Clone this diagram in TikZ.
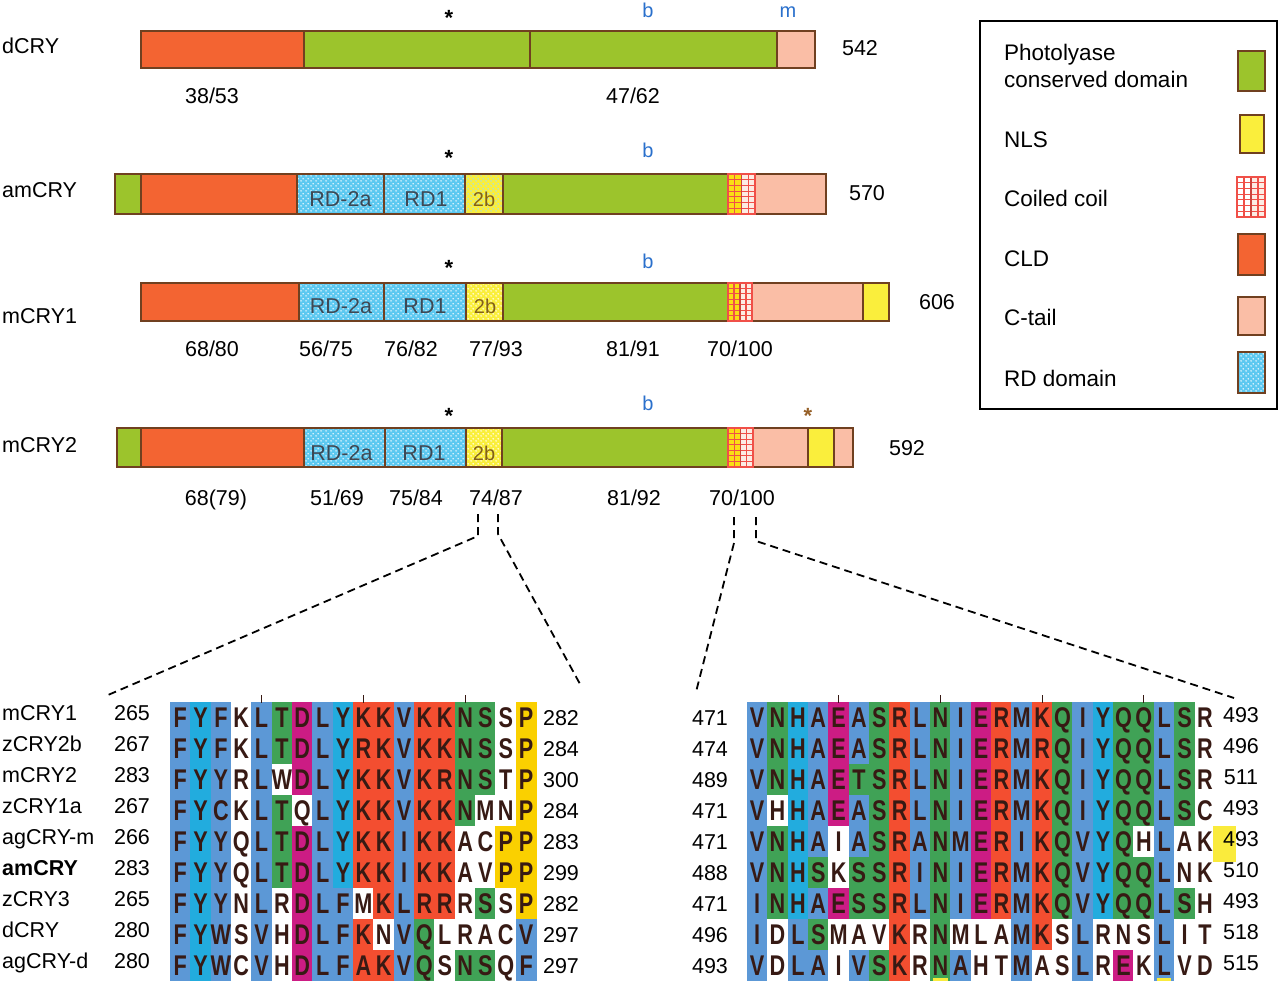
\documentclass[tikz,border=0pt]{standalone}
\usepackage{fontspec}
\setmainfont{Liberation Sans}
\newfontfamily\seqfont[FakeStretch=0.76]{Liberation Sans}
\usepackage{xstring}
\usetikzlibrary{patterns,patterns.meta}

\definecolor{pgreen}{RGB}{156,196,44}
\definecolor{clorange}{RGB}{243,100,50}
\definecolor{ctail}{RGB}{250,190,166}
\definecolor{nlsyel}{RGB}{250,238,60}
\definecolor{rdblue}{RGB}{92,200,240}
\definecolor{ccred}{RGB}{240,80,72}
\definecolor{ccyel}{RGB}{250,222,20}
\definecolor{ccpale}{RGB}{252,236,228}
\definecolor{outl}{RGB}{112,64,32}
\definecolor{colb}{RGB}{92,152,214}
\definecolor{colc}{RGB}{34,172,222}
\definecolor{colg}{RGB}{64,162,86}
\definecolor{colm}{RGB}{204,28,132}
\definecolor{colr}{RGB}{243,78,48}
\definecolor{coly}{RGB}{250,208,0}
\definecolor{colw}{RGB}{255,255,255}
\definecolor{seqtxt}{RGB}{55,26,20}
\definecolor{bblue}{RGB}{42,112,204}
\definecolor{sbrown}{RGB}{150,96,40}
\definecolor{rdtext}{RGB}{62,72,84}
\definecolor{twobtext}{RGB}{130,96,24}
\definecolor{markyel}{RGB}{250,235,60}

\tikzdeclarepattern{
  name=wdots, type=uncolored,
  bottom left={(0pt,0pt)}, top right={(5pt,5pt)},
  tile size={(5pt,5pt)},
  code={\fill (1.2pt,1.2pt) circle[radius=0.9pt]; \fill (3.7pt,3.7pt) circle[radius=0.9pt];}
}

% one alignment row: x0, row index, sequence, colour codes, number of columns
\newcommand{\alrow}[5]{%
  \foreach \ii in {1,...,#5}{%
    \StrChar{#3}{\ii}[\seqch]%
    \StrChar{#4}{\ii}[\colch]%
    \colorlet{cellcol}{col\colch}%
    \fill[cellcol] ({#1+(\ii-1)*20.35-0.2},{702+(#2-1)*31-0.2}) rectangle ({#1+\ii*20.35+0.2},{702+#2*31+0.2});
    \node[seqletter] at ({#1+(\ii-0.5)*20.35},{702+(#2-0.5)*31+10.2}) {\seqch};
  }%
}

% coiled coil box: x1, x2, y1, y2, left fill
\newcommand{\ccbox}[5]{%
  \pgfmathsetmacro{\ccm}{#1+0.5*(#2-#1)}%
  \fill[#5] (#1,#3) rectangle (\ccm,#4);
  \fill[ccpale] (\ccm,#3) rectangle (#2,#4);
  \foreach \k in {1,...,6}{\draw[ccred, line width=1.1pt] (#1,{#3+\k*(#4-#3)/7}) -- (#2,{#3+\k*(#4-#3)/7});}
  \foreach \k in {1,3}{\draw[ccred, line width=1.1pt] ({#1+\k*(#2-#1)/4},#3) -- ({#1+\k*(#2-#1)/4},#4);}
  \draw[ccred!85!black, line width=1.5pt] (\ccm,#3) -- (\ccm,#4);
  \draw[ccred, line width=1.8pt] (#1,#3) rectangle (#2,#4);
}

% RD segment: x1, x2, y1, y2
\newcommand{\rdseg}[4]{%
  \fill[rdblue] (#1,#3) rectangle (#2,#4);
  \fill[pattern=wdots, pattern color=white] (#1,#3) rectangle (#2,#4);
}
% 2b segment
\newcommand{\tbseg}[5]{%
  \fill[nlsyel] (#1,#3) rectangle (#2,#4);
  \fill[pattern=wdots, pattern color=#5] (#1,#3) rectangle (#2,#4);
}

\begin{document}
\begin{tikzpicture}[x=1pt,y=-1pt,
  lab/.style={font=\fontsize{21.5}{26}\selectfont, inner sep=0pt, anchor=base},
  labw/.style={lab, anchor=base west},
  leg/.style={font=\fontsize{22.5}{28}\selectfont, inner sep=0pt, anchor=base west, align=left},
  star/.style={font=\fontsize{22}{24}\selectfont\bfseries, inner sep=0pt, anchor=base},
  bl/.style={font=\fontsize{20}{22}\selectfont, text=bblue, inner sep=0pt, anchor=base},
  rdl/.style={font=\fontsize{21.5}{24}\selectfont, text=rdtext, inner sep=0pt, anchor=base},
  tbl/.style={font=\fontsize{20}{24}\selectfont, text=twobtext, inner sep=0pt, anchor=base},
  seqletter/.style={font=\seqfont\bfseries\fontsize{28.5}{28}\selectfont, text=seqtxt, inner sep=0pt, anchor=base},
  dashln/.style={black, line width=1.8pt, dash pattern=on 8pt off 5pt},
  segline/.style={draw=outl, line width=1.3pt},
  tick/.style={draw=seqtxt, line width=1pt},
]
\useasboundingbox (0,0) rectangle (1280,982);
\fill[white] (0,0) rectangle (1280,982);

%================ dCRY =================
\node[labw] (ndcry) at (2,54) {dCRY};
\fill[clorange] (141,31) rectangle (304,68);
\fill[pgreen] (304,31) rectangle (777,68);
\fill[ctail] (777,31) rectangle (815,68);
\draw[segline] (141,31) rectangle (815,68);
\draw[segline] (304,31) -- (304,68) (530,31) -- (530,68) (777,31) -- (777,68);
\node[lab] (l542) at (860,56) {542};
\node[star] (sd) at (449,26) {*};
\node[bl] (bd) at (648,18) {b};
\node[bl] (md) at (788,18) {m};
\node[lab] (d1) at (212,103.5) {38/53};
\node[lab] (d2) at (633,103.5) {47/62};

%================ amCRY =================
\node[labw] (namcry) at (2,197) {amCRY};
\fill[pgreen] (115,174) rectangle (141,214);
\fill[clorange] (141,174) rectangle (297,214);
\rdseg{297}{384}{174}{214}
\rdseg{384}{465}{174}{214}
\tbseg{465}{503}{174}{214}{rdblue!60!white}
\fill[pgreen] (503,174) rectangle (728,214);
\fill[ctail] (755,174) rectangle (826,214);
\draw[segline] (115,174) rectangle (826,214);
\draw[segline] (141,174) -- (141,214) (297,174) -- (297,214) (384,174) -- (384,214) (465,174) -- (465,214) (503,174) -- (503,214);
\ccbox{728}{755}{174}{214}{ccyel}
\node[rdl] at (340.5,206) {RD-2a};
\node[rdl] at (426,206) {RD1};
\node[tbl] at (484,206) {2b};
\node[lab] (l570) at (867,200) {570};
\node[star] (sa) at (449,165) {*};
\node[bl] (ba) at (648,157) {b};

%================ mCRY1 =================
\node[labw] (nmcry1) at (2,323) {mCRY1};
\fill[clorange] (141,283) rectangle (299,321);
\rdseg{299}{384}{283}{321}
\rdseg{384}{466}{283}{321}
\tbseg{466}{503}{283}{321}{white}
\fill[pgreen] (503,283) rectangle (728,321);
\fill[ctail] (752,283) rectangle (863,321);
\fill[nlsyel] (863,283) rectangle (889,321);
\draw[segline] (141,283) rectangle (889,321);
\draw[segline] (299,283) -- (299,321) (384,283) -- (384,321) (466,283) -- (466,321) (503,283) -- (503,321) (863,283) -- (863,321);
\ccbox{728}{752}{283}{321}{ccyel}
\node[rdl] at (341,313) {RD-2a};
\node[rdl] at (425,313) {RD1};
\node[tbl] at (485,313) {2b};
\node[lab] (l606) at (937,309) {606};
\node[star] (s1) at (449,275) {*};
\node[bl] (b1) at (648,268) {b};
\node[lab] at (212,356) {68/80};
\node[lab] at (326,356) {56/75};
\node[lab] at (411,356) {76/82};
\node[lab] at (496,356) {77/93};
\node[lab] at (633,356) {81/91};
\node[lab] at (740,356) {70/100};

%================ mCRY2 =================
\node[labw] (nmcry2) at (2,452) {mCRY2};
\fill[pgreen] (117,428) rectangle (141,467);
\fill[clorange] (141,428) rectangle (304,467);
\rdseg{304}{385}{428}{467}
\rdseg{385}{466}{428}{467}
\tbseg{466}{502}{428}{467}{white}
\fill[pgreen] (502,428) rectangle (728,467);
\fill[ctail] (753,428) rectangle (853,467);
\fill[nlsyel] (808,428) rectangle (834,467);
\draw[segline] (117,428) rectangle (853,467);
\draw[segline] (141,428) -- (141,467) (304,428) -- (304,467) (385,428) -- (385,467) (466,428) -- (466,467) (502,428) -- (502,467) (808,428) -- (808,467) (834,428) -- (834,467);
\ccbox{728}{753}{428}{467}{ccyel}
\node[rdl] at (341.5,460) {RD-2a};
\node[rdl] at (424,460) {RD1};
\node[tbl] at (484,460) {2b};
\node[lab] (l592) at (907,455) {592};
\node[star] (s2) at (449,423) {*};
\node[bl] (b2) at (648,410) {b};
\node[star, text=sbrown] (s2b) at (808,423) {*};
\node[lab] at (216,505) {68(79)};
\node[lab] at (337,505) {51/69};
\node[lab] at (416,505) {75/84};
\node[lab] (z1) at (496,505) {74/87};
\node[lab] at (634,505) {81/92};
\node[lab] (z2) at (742,505) {70/100};

%================ legend =================
\draw[black, line width=1.4pt] (980,21) rectangle (1277,409);
\node[leg] (lg1) at (1004,88) {Photolyase\\conserved domain};
\fill[pgreen] (1238,51) rectangle (1265,91); \draw[segline] (1238,51) rectangle (1265,91);
\node[leg] (lg2) at (1004,147) {NLS};
\fill[nlsyel] (1240,115) rectangle (1264,153); \draw[segline] (1240,115) rectangle (1264,153);
\node[leg] (lg3) at (1004,206) {Coiled coil};
\ccbox{1237}{1265}{177}{217}{white}
\node[leg] (lg4) at (1004,266) {CLD};
\fill[clorange] (1238,234) rectangle (1265,275); \draw[segline] (1238,234) rectangle (1265,275);
\node[leg] (lg5) at (1004,325) {C-tail};
\fill[ctail] (1238,297) rectangle (1265,335); \draw[segline] (1238,297) rectangle (1265,335);
\node[leg] (lg6) at (1004,386) {RD domain};
\rdseg{1238}{1265}{352}{393}
\draw[segline] (1238,352) rectangle (1265,393);

%================ dashed zoom lines =================
\coordinate (a1) at (478,514); \coordinate (a2) at (478,536); \coordinate (a3) at (108,695);
\coordinate (b1) at (498,514); \coordinate (b2) at (498,534); \coordinate (b3) at (580,684);
\coordinate (c1) at (734,517); \coordinate (c2) at (734,543); \coordinate (c3) at (696,692);
\coordinate (e1) at (756,517); \coordinate (e2) at (756,541); \coordinate (e3) at (1234,698);
\draw[dashln] (a1) -- (a2) -- (a3);
\draw[dashln] (b1) -- (b2) -- (b3);
\draw[dashln] (c1) -- (c2) -- (c3);
\draw[dashln] (e1) -- (e2) -- (e3);

%================ left alignment =================
\alrow{170}{1}{FYFKLTDLYKKVKKNSSP}{bcbwbgmbcrrbrrggwy}{18}
\alrow{170}{2}{FYFKLTDLYRKVKKNSSP}{bcbwbgmbcrrbrrggwy}{18}
\alrow{170}{3}{FYYRLWDLYKKVKRNSTP}{bcbwbwmbcrrbrrggwy}{18}
\alrow{170}{4}{FYCKLTQLYKKVKKNMNP}{bcbwbgwbcrrbrrgwwy}{18}
\alrow{170}{5}{FYYQLTDLYKKIKKACPP}{bcbwbgmbcrrbrrwwyy}{18}
\alrow{170}{6}{FYYQLTDLYKKIKKAVPP}{bcbwbgmbcrrbrrwwyy}{18}
\alrow{170}{7}{FYYNLRDLFMKLRRRSSP}{bcbwbwmbbwrbrrwgwy}{18}
\alrow{170}{8}{FYWSVHDLFKNVQLRACV}{bcbwbwmbbrwbgwwwwb}{18}
\alrow{170}{9}{FYWCVHDLFAKVQSNSQF}{bcbwbwmbbrrbgwggwb}{18}
\foreach \k in {5,10,15}{\draw[tick] ({170+(\k-0.5)*20.35},695) -- ({170+(\k-0.5)*20.35},703);}
\foreach \nm/\na/\nb [count=\k] in {mCRY1/265/282, zCRY2b/267/284, mCRY2/283/300, zCRY1a/267/284, agCRY-m/266/283, {\bfseries amCRY}/283/299, zCRY3/265/282, dCRY/280/297, agCRY-d/280/297}{
  \node[labw] (al\k) at (2,{702+(\k-0.5)*31+2.5}) {\nm};
  \node[lab] (aln\k) at (132,{702+(\k-0.5)*31+2.5}) {\na};
  \node[lab] (alr\k) at (561,{702+(\k-0.5)*31+8}) {\nb};
}

%================ right alignment =================
\alrow{747}{1}{VNHAEASRLNIERMKQIYQQLSR}{bgcbmbgrbgbmrbrgbcggbgw}{23}
\alrow{747}{2}{VNHAEASRLNIERMRQIYQQLSR}{bgcbmbgrbgbmrbrgbcggbgw}{23}
\alrow{747}{3}{VNHAETSRLNIERMKQIYQQLSR}{bgcbmggrbgbmrbrgbcggbgw}{23}
\alrow{747}{4}{VHHAEASRLNIERMKQIYQQLSC}{bwcbmbgrbgbmrbrgbcggbgw}{23}
\alrow{747}{5}{VNHAIASRANMERIKQVYQHLAK}{bgcbwbgrbgbmrbrgbcgwbww}{23}
\alrow{747}{6}{VNHSKSSRINIERMKQVYQQLNK}{bgcgwggrbgbmrbrgbcggbww}{23}
\alrow{747}{7}{INHAESSRLNIERMKQVYQQLSH}{bgcbmggrbgbmrbrgbcggbgw}{23}
\alrow{747}{8}{IDLSMAVKRNMLAMKSLRNSLIT}{bwbgwwwrwgwwwbrwbwwwbww}{23}
\alrow{747}{9}{VDLAIVSKRNAHTMASLREKLVD}{bwbbwbgrwgbwwbwwbwmwbww}{23}
\foreach \k in {5,10,15,20}{\draw[tick] ({747+(\k-0.5)*20.35},695) -- ({747+(\k-0.5)*20.35},703);}
\fill[markyel] (1213,826) rectangle (1236,862);
\fill[markyel] ({747+9*20.35+3},978) rectangle ({747+10*20.35-3},981);
\fill[markyel] ({747+20*20.35+3},978) rectangle ({747+21*20.35-3},981);
\foreach \na/\nb [count=\k] in {471/493, 474/496, 489/511, 471/493, 471/493, 488/510, 471/493, 496/518, 493/515}{
  \node[lab] (brl\k) at (710,{702+(\k-0.5)*31+8}) {\na};
  \node[lab] (brr\k) at (1241,{702+(\k-0.5)*31+5}) {\nb};
}
\end{tikzpicture}
\end{document}
